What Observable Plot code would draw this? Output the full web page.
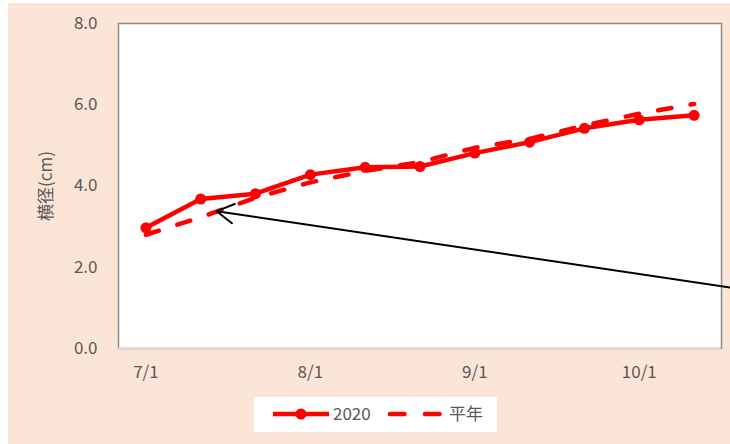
<!DOCTYPE html>
<html><head><meta charset="utf-8">
<script src="https://cdn.jsdelivr.net/npm/d3@7"></script>
<script src="https://cdn.jsdelivr.net/npm/@observablehq/plot@0.6"></script>
<style>
body{margin:0;background:#fff;}
#chart{position:absolute;left:8px;top:3px;width:722px;height:441px;background:#FBE5D6;overflow:hidden;}
#plot{position:absolute;left:0;top:0;}
#legend{position:absolute;left:246px;top:394px;width:243px;height:35px;background:#fff;}
</style></head><body>
<div id="chart"><div id="plot"></div><div id="legend"></div></div>
<script>
// data
const categories = ["7/1","7/11","7/21","8/1","8/11","8/21","9/1","9/11","9/21","10/1","10/11"];
const values2020 = [2.97, 3.68, 3.81, 4.28, 4.46, 4.48, 4.81, 5.08, 5.42, 5.63, 5.74];
const valuesNormal = [2.80, 3.23, 3.71, 4.09, 4.37, 4.59, 4.94, 5.16, 5.49, 5.78, 6.02];
const seriesNames = ["2020", "平年"];
const xTickLabels = ["7/1","8/1","9/1","10/1"];
const yTicks = [0, 2, 4, 6, 8];
const yLabel = "横径(cm)";
// arrow annotation, in category-index units and cm
const arrowStart = [10.66, 1.50];
const arrowEnd = [1.29, 3.38];

const red = "#FF0000";
const gray = "#595959";
const font = '"Noto Sans CJK JP", "Noto Sans", sans-serif';

const d2020 = categories.map((c, i) => ({i, value: values2020[i]}));
const dNormal = categories.map((c, i) => ({i, value: valuesNormal[i]}));
const arrowData = [{x1: arrowStart[0], y1: arrowStart[1], x2: arrowEnd[0], y2: arrowEnd[1]}];
const tickIdx = xTickLabels.map(l => categories.indexOf(l));

const chart = Plot.plot({
  width: 722, height: 395,
  marginLeft: 110, marginRight: 9, marginTop: 20, marginBottom: 50,
  style: {background: "transparent", fontSize: "17px", fontFamily: font, color: gray, overflow: "visible"},
  x: {type: "linear", domain: [-0.5, categories.length - 0.5]},
  y: {domain: [0, 8]},
  marks: [
    Plot.frame({fill: "white"}),
    Plot.axisY({ticks: yTicks, tickFormat: d => d.toFixed(1), tickSize: 0, tickPadding: 21,
      label: yLabel, labelAnchor: "center", labelArrow: "none", labelOffset: 79, fontSize: 17, fill: gray}),
    Plot.axisX({ticks: tickIdx, tickFormat: i => categories[i], tickSize: 0, tickPadding: 17, label: null, fontSize: 17, fill: gray}),
    Plot.line(dNormal, {x: "i", y: "value", stroke: red, strokeWidth: 4.5, strokeDasharray: "13.5,19.5", strokeLinecap: "round"}),
    Plot.line(d2020, {x: "i", y: "value", stroke: red, strokeWidth: 4.5}),
    Plot.dot(d2020, {x: "i", y: "value", r: 5.5, fill: red, stroke: "none"}),
    Plot.frame({stroke: "#8c8c8c", strokeWidth: 1.5}),
    Plot.ruleY([0], {stroke: "#d9d9d9", strokeWidth: 2}),
    Plot.arrow(arrowData, {x1: "x1", y1: "y1", x2: "x2", y2: "y2", stroke: "black", strokeWidth: 2, headLength: 14.6, headAngle: 60})
  ]
});
document.getElementById("plot").appendChild(chart);

// legend
const ns = "http://www.w3.org/2000/svg";
const lg = document.createElementNS(ns, "svg");
lg.setAttribute("width", 243); lg.setAttribute("height", 35);
lg.innerHTML = `
  <line x1="19" x2="75" y1="17" y2="17" stroke="${red}" stroke-width="4.5"/>
  <circle cx="47" cy="17" r="5.5" fill="${red}"/>
  <text x="79" y="17" dy="0.36em" font-size="17" font-family='${font}' fill="${gray}">${seriesNames[0]}</text>
  <line x1="136" x2="186" y1="17" y2="17" stroke="${red}" stroke-width="4.5" stroke-linecap="round" stroke-dasharray="14.5,20.5"/>
  <text x="195" y="17" dy="0.36em" font-size="17" font-family='${font}' fill="${gray}">${seriesNames[1]}</text>`;
document.getElementById("legend").appendChild(lg);
</script>
</body></html>
